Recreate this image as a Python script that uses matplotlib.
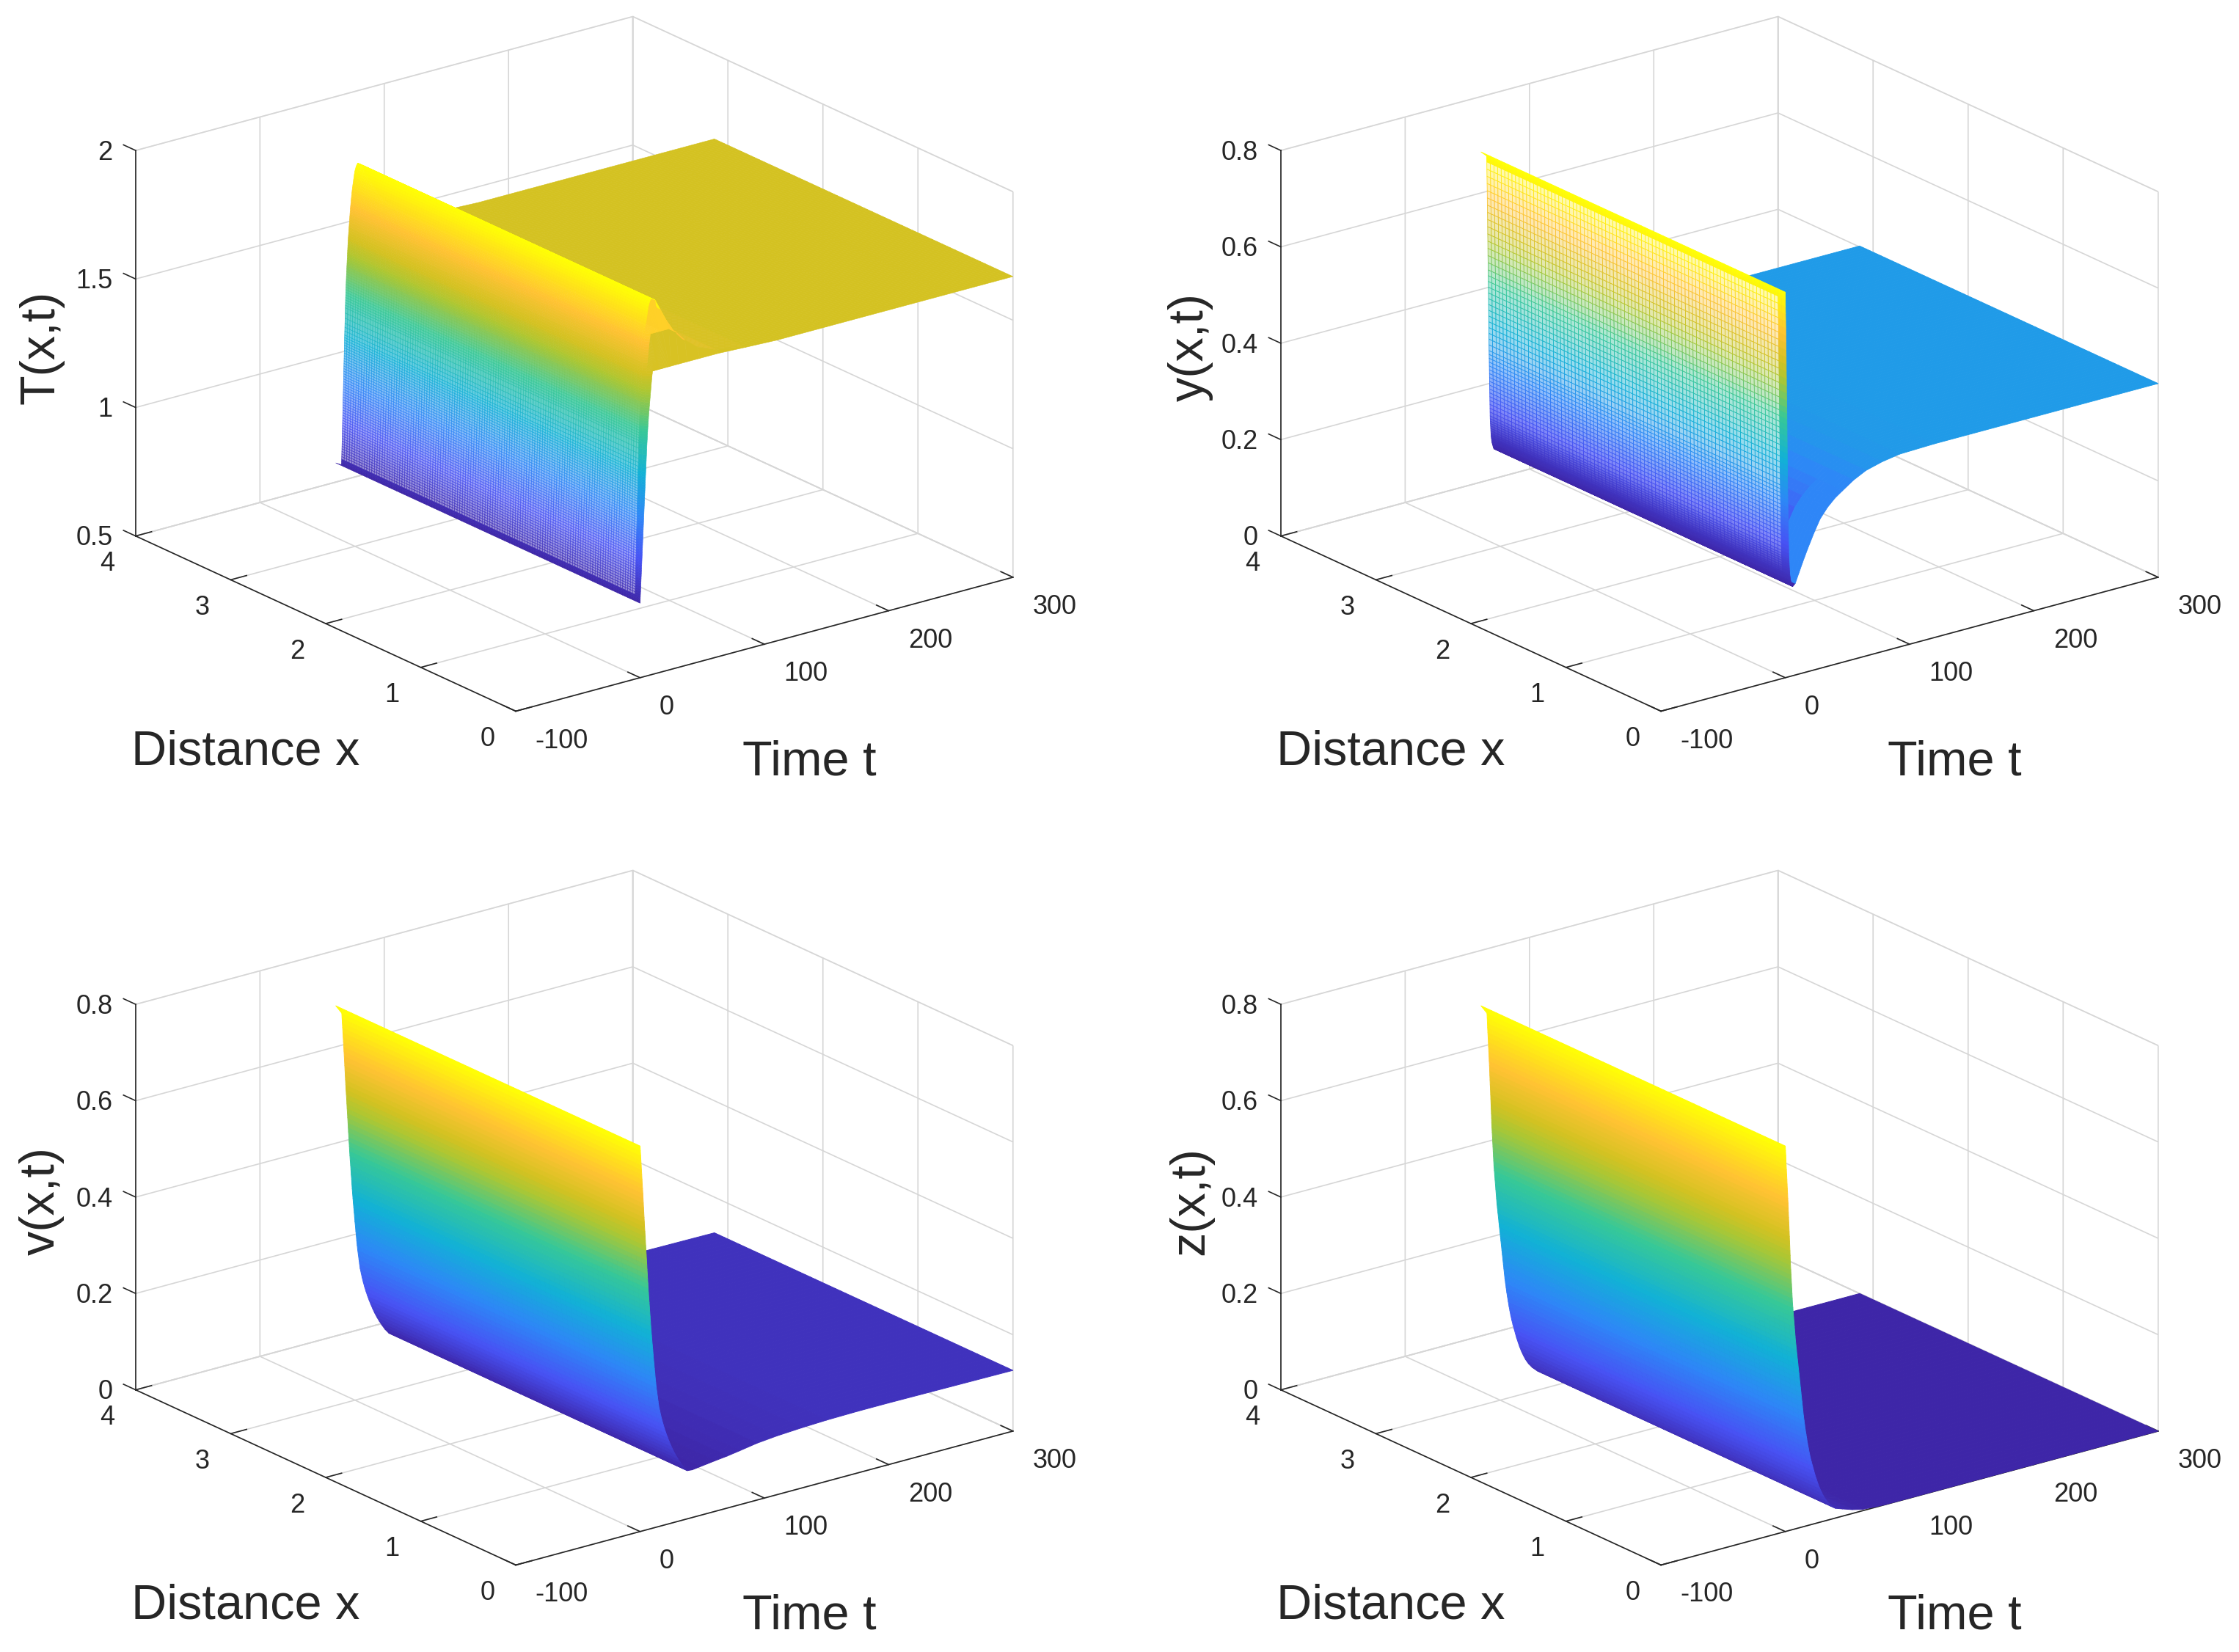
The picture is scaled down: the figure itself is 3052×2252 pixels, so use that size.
import numpy as np
import matplotlib
matplotlib.use("Agg")
import matplotlib.pyplot as plt
from matplotlib.colors import LinearSegmentedColormap
from matplotlib.text import Text
from mpl_toolkits.mplot3d import proj3d

plt.rcParams['font.family'] = ['Liberation Sans', 'DejaVu Sans']

# ---------- data ----------
time_ticks = [-100, 0, 100, 200, 300]
time_tick_labels = ['-100', '0', '100', '200', '300']
dist_ticks = [0, 1, 2, 3, 4]
dist_tick_labels = ['0', '1', '2', '3', '4']
z_ticks_T = [0.5, 1, 1.5, 2]
z_tick_labels_T = ['0.5', '1', '1.5', '2']
z_ticks_c = [0, 0.2, 0.4, 0.6, 0.8]
z_tick_labels_c = ['0', '0.2', '0.4', '0.6', '0.8']

T_t = [0,.01,.02,.04,.06,.08,.12,.17,.22,.27,.32,.37,.42,.47,.52,.57,.62,.67,.72,.77,.82,.87,.92,.97,1.02,1.07,1.12,1.17,1.22,1.27,1.32,1.37,1.42,1.47,1.52,1.57,1.62,1.67,1.72,1.77,1.82,1.87,1.92,1.97,2.02,2.07,2.12,2.17,2.22,2.27,2.32,2.37,2.42,2.47,2.52,2.6,2.68,2.76,2.86,2.96,3.06,3.13,3.2,3.25,3.3,3.38,3.45,3.52,3.6,3.68,3.75,3.82,3.9,4,4.1,4.2,4.3,4.4,4.5,4.6,4.7,4.8,4.9,5,5.1,5.2,5.3,5.45,5.6,5.75,5.9,6.05,6.2,6.35,6.5,6.65,6.8,6.95,7.1,7.3,7.5,7.7,7.9,8.1,8.3,8.55,8.8,9.1,9.4,9.7,10,10.3,10.6,11.2,11.8,12.4,13,16,20,25,31,38,48,63,85,110,150,200,250,300]
T_z = [.79,.793,.796,.80,.804,.808,.815,.825,.835,.845,.855,.865,.875,.885,.895,.905,.915,.925,.935,.945,.955,.965,.975,.985,.995,1.005,1.015,1.025,1.035,1.045,1.055,1.065,1.075,1.085,1.095,1.105,1.115,1.125,1.135,1.145,1.155,1.165,1.175,1.185,1.195,1.205,1.215,1.225,1.235,1.245,1.255,1.265,1.275,1.285,1.295,1.31,1.325,1.34,1.36,1.38,1.40,1.41,1.42,1.43,1.44,1.45,1.46,1.47,1.48,1.49,1.50,1.51,1.52,1.53,1.54,1.55,1.56,1.57,1.58,1.59,1.60,1.61,1.62,1.63,1.64,1.65,1.66,1.67,1.68,1.69,1.70,1.71,1.72,1.73,1.74,1.75,1.76,1.77,1.78,1.79,1.80,1.81,1.82,1.83,1.84,1.85,1.86,1.87,1.88,1.89,1.90,1.91,1.92,1.93,1.94,1.945,1.95,1.94,1.90,1.85,1.80,1.76,1.72,1.69,1.675,1.67,1.67,1.67,1.67,1.67]

y_t = [0,0,0,.02,.04,.06,.1,.2,.3,.4,.45,.5,.6,.7,.75,.8,.9,.95,1,1.1,1.2,1.25,1.3,1.35,1.4,1.45,1.5,1.55,1.6,1.65,1.7,1.75,1.8,1.85,1.9,1.95,2,2.05,2.1,2.15,2.2,2.25,2.3,2.35,2.4,2.45,2.5,2.55,2.6,2.65,2.7,2.75,2.8,2.9,3,3.1,3.2,3.3,3.4,3.5,3.6,3.8,4,4.2,4.5,4.8,5.1,5.4,5.7,6,8,11,14,18,23,28,34,40,46,55,65,78,92,120,150,200,250,300]
y_z = [.80,.797,.794,.791,.788,.785,.77,.755,.74,.725,.71,.695,.68,.665,.65,.635,.62,.605,.59,.575,.56,.548,.536,.524,.512,.5,.488,.476,.464,.452,.44,.428,.416,.404,.392,.384,.376,.368,.36,.352,.344,.336,.328,.32,.312,.304,.296,.288,.28,.272,.264,.256,.25,.245,.24,.235,.23,.225,.22,.216,.212,.208,.204,.2,.197,.194,.191,.188,.186,.185,.19,.21,.23,.255,.284,.31,.33,.345,.356,.372,.385,.394,.40,.402,.402,.402,.402,.402]

v_t = [0,.22,.44,.66,.88,1.1,1.32,1.54,1.76,1.98,2.2,2.4,2.6,2.8,3,3.2,3.4,3.6,3.85,4.1,4.3,4.5,4.75,4.95,5.2,5.4,5.6,5.85,6.05,6.3,6.5,6.75,7,7.3,7.55,7.8,8.1,8.35,8.6,8.9,9.2,9.5,9.85,10.2,10.5,10.8,11.2,11.5,11.9,12.2,12.6,13,13.5,14,14.5,15,15.8,16.6,17.5,18.5,19.6,20.8,22.1,23.5,25,26.6,28.4,30.4,32.6,35,38,42,48,54,60,70,80,94,110,130,150,175,200,250,300]
v_z = [.80,.79,.78,.77,.76,.75,.74,.73,.72,.71,.70,.69,.68,.67,.66,.65,.64,.63,.62,.61,.60,.59,.58,.57,.56,.55,.54,.53,.52,.51,.50,.49,.48,.47,.46,.45,.44,.43,.42,.41,.40,.39,.38,.37,.36,.35,.34,.33,.32,.31,.30,.29,.28,.27,.26,.25,.24,.23,.22,.21,.20,.19,.18,.17,.16,.15,.14,.13,.12,.11,.10,.099,.101,.103,.105,.108,.112,.118,.122,.125,.127,.128,.128,.127,.126]

z_t = [0,.2,.4,.55,.7,.9,1.1,1.3,1.45,1.65,1.85,2,2.2,2.35,2.5,2.65,2.8,3,3.15,3.3,3.45,3.6,3.75,3.9,4,4.2,4.4,4.6,4.8,5,5.2,5.4,5.6,5.8,6.1,6.4,6.7,7,7.3,7.6,7.9,8.2,8.6,9,9.4,9.8,10.2,10.6,11,11.4,11.8,12.2,12.6,13,13.4,13.8,14.2,14.6,15.1,15.6,16.1,16.7,17.3,17.9,18.6,19.3,20.1,21,22,23,24,25.2,26.4,27.8,29.4,31.2,33.5,36.5,40.5,46,54,62,72,80,100,150,200,250,300]
z_z = [.80,.79,.78,.77,.76,.75,.74,.73,.72,.71,.70,.69,.68,.67,.66,.65,.64,.63,.62,.61,.60,.59,.58,.57,.56,.55,.54,.53,.52,.51,.50,.49,.48,.47,.46,.45,.44,.43,.42,.41,.40,.39,.38,.37,.36,.35,.34,.33,.32,.31,.30,.29,.28,.27,.26,.25,.24,.23,.22,.21,.20,.19,.18,.17,.16,.15,.14,.13,.12,.11,.10,.09,.08,.07,.06,.05,.04,.03,.02,.015,.008,.003,.001,0,0,0,0,0,0]

parula_stops = [(0,(.2422,.1504,.6603)),(.143,(.2810,.3228,.9579)),(.286,(.1786,.5289,.9682)),(.429,(.0689,.6948,.8394)),
                (.571,(.2161,.7843,.5923)),(.70,(.672,.78,.2)),(.76,(.83,.76,.13)),(.857,(1,.76,.2)),(1,(1,1,.02))]
parula = LinearSegmentedColormap.from_list('parula', parula_stops, N=256)

W, H = 3052, 2252
SC = 3052 / 1568
GRID = (0.84, 0.84, 0.84)
DARK = (0.15, 0.15, 0.15)
fig = plt.figure(figsize=(W/200, H/200), dpi=200, facecolor='white')

def project(ax, p):
    x, y, _ = proj3d.proj_transform(p[0], p[1], p[2], ax.get_proj())
    return ax.transData.transform((x, y))

def place(ax, pa, pb, ta, tb):
    ax.set_position([.25, .25, .5, .5]); ax.apply_aspect()
    a, b = project(ax, pa), project(ax, pb)
    S = .5 * (tb[0]-ta[0]) / (b[0]-a[0])
    ax.set_position([.25, .25, S, S]); ax.apply_aspect()
    a = project(ax, pa)
    ax.set_position([.25 + (ta[0]-a[0])/W, .25 + ((H-ta[1])-a[1])/H, S, S])
    ax.apply_aspect()

def pin(ax, label, cx, cy):
    """Keep an axis label at a fixed place given in the 1568-wide view of the picture."""
    xy = ax.transData.inverted().transform((cx*SC, H - cy*SC))
    Text.set_position(label, tuple(xy))
    label.set_position = lambda _xy: None
    label.set_clip_on(False)

def nudge(ax, axis, dx, dy):
    """Shift the tick labels of one axis by (dx, dy) in the 1568-wide view."""
    inv = ax.transData.inverted()
    d = inv.transform((dx*SC, -dy*SC)) - inv.transform((0, 0))
    for tick in axis.get_major_ticks():
        lab = tick.label1
        lab.set_position = (lambda l: lambda xy: Text.set_position(l, (xy[0]+d[0], xy[1]+d[1])))(lab)

def panel(ox, oy, t_vals, z_vals, zticks, zlabels, zlabel, zlab_xy, ncols, white_z, white_w,
          stretch, caps, solid_x, lw, nub=0.06, col_floor=None):
    ax = fig.add_axes([.25, .25, .5, .5], projection='3d', proj_type='ortho')
    ax.patch.set_alpha(0)
    zlo, zhi = zticks[0], zticks[-1]
    ax.set_xlim(-100, 300); ax.set_ylim(0, 4); ax.set_zlim(zlo, zhi)
    ax.view_init(elev=20.63, azim=-127.4)
    ax.set_box_aspect((436, 436, 287), zoom=1)
    place(ax, (-100, 4, zlo), (300, 0, zlo),
          ((95+ox)*SC, (375.4+oy)*SC), ((709.4+ox)*SC, (404.2+oy)*SC))

    for a in (ax.xaxis, ax.yaxis, ax.zaxis):
        a.pane.set_facecolor('white'); a.pane.set_edgecolor(GRID); a.pane.set_linewidth(0.6)
        a.line.set_color(DARK); a.line.set_linewidth(0.6)
        a._axinfo['grid'].update(color=GRID, linewidth=0.6)
        a._axinfo['tick'].update(inward_factor=0.0, outward_factor=0.4, linewidth={True: 0.6, False: 0.4})
        a._axinfo['tick']['color'] = DARK
    ax.zaxis._get_tickdir = lambda *_: 1      # z ticks run along the distance axis
    ax.set_xticks(time_ticks); ax.set_xticklabels(time_tick_labels, ha='left')
    ax.set_yticks(dist_ticks); ax.set_yticklabels(dist_tick_labels, ha='right')
    ax.set_zticks(zticks); ax.set_zticklabels(zlabels, ha='right')
    ax.tick_params(axis='both', labelsize=13, colors=DARK, color=DARK, width=0.6)
    ax.tick_params(axis='x', pad=3)
    ax.tick_params(axis='y', pad=3)
    ax.tick_params(axis='z', pad=-5)
    nudge(ax, ax.xaxis, 1.5, -6)
    nudge(ax, ax.yaxis, 1, -6)
    nudge(ax, ax.zaxis, -8.5, -7)
    ax.xaxis.set_rotate_label(False); ax.yaxis.set_rotate_label(False); ax.zaxis.set_rotate_label(False)
    ax.set_xlabel('Time t', fontsize=24, color=DARK, rotation=0)
    ax.set_ylabel('Distance x', fontsize=24, color=DARK, rotation=0)
    ax.set_zlabel(zlabel, fontsize=24, color=DARK, rotation=90)
    pin(ax, ax.xaxis.label, 567+ox, 534+oy)
    pin(ax, ax.yaxis.label, 172+ox, 527+oy)
    pin(ax, ax.zaxis.label, zlab_xy[0], zlab_xy[1])

    t = np.asarray(t_vals, float); z = np.asarray(z_vals, float)
    x = np.linspace(0, np.pi, ncols)
    X = np.tile(t[:, None], (1, ncols))
    Y = np.tile(x[None, :], (len(t), 1))
    Z = np.tile(z[:, None], (1, ncols))
    for j, (s, c) in enumerate(zip(stretch, caps)):
        X[:, j] = np.maximum.accumulate(np.where(t <= 13, t*s, t))
        Z[:, j] = np.minimum(z, c)
    zmid = 0.5*(Z[:-1, :-1] + Z[1:, :-1])
    Y[0, -1] += nub
    zcol = zmid.copy()
    if col_floor is not None:
        near = (X[:-1, :-1] > 6.0) & (Y[:-1, :-1] < col_floor[0])
        zcol = np.where(near, np.maximum(zcol, col_floor[1]), zcol)
    cols = parula((zcol - z.min())/(z.max() - z.min()))
    w = np.interp(zmid, white_z, white_w)
    w = np.where(Y[:-1, :-1] < solid_x, 0.0, w)
    # flat regions past the wall stay solid
    w = np.where(X[:-1, :-1] > 6.0, 0.0, w)
    faces = cols.copy()
    faces[..., :3] = cols[..., :3]*(1-w[..., None]) + w[..., None]
    surf = ax.plot_surface(X, Y, Z, rstride=1, cstride=1, facecolors=faces, shade=False,
                           linewidth=lw, antialiased=True)
    surf.set_edgecolor(cols.reshape(-1, 4))
    return ax

panel(0, 0, T_t, T_z, z_ticks_T, z_tick_labels_T, 'T(x,t)', (29, 243), 120,
      [.815, .82, 1.2, 1.4, 1.58], [0, .45, .42, .25, 0.0], [1.8, 1.3], [1.68, 1.82], 0.04, 0.22)
panel(802, 0, y_t, y_z, z_ticks_c, z_tick_labels_c, 'y(x,t)', (834, 243), 84,
      [.21, .27, .4, .78, .785], [0.0, .3, .55, .65, 0.0], [], [], 0.06, 0.3, col_floor=(0.25, 0.36))
panel(0, 598, v_t, v_z, z_ticks_c, z_tick_labels_c, 'v(x,t)', (29, 841), 60,
      [0, 1], [0, 0], [], [], 0, 0.35)
panel(802, 598, z_t, z_z, z_ticks_c, z_tick_labels_c, 'z(x,t)', (834, 841), 60,
      [0, 1], [0, 0], [], [], 0, 0.35)

fig.savefig('out.png', dpi=200, facecolor='white')
